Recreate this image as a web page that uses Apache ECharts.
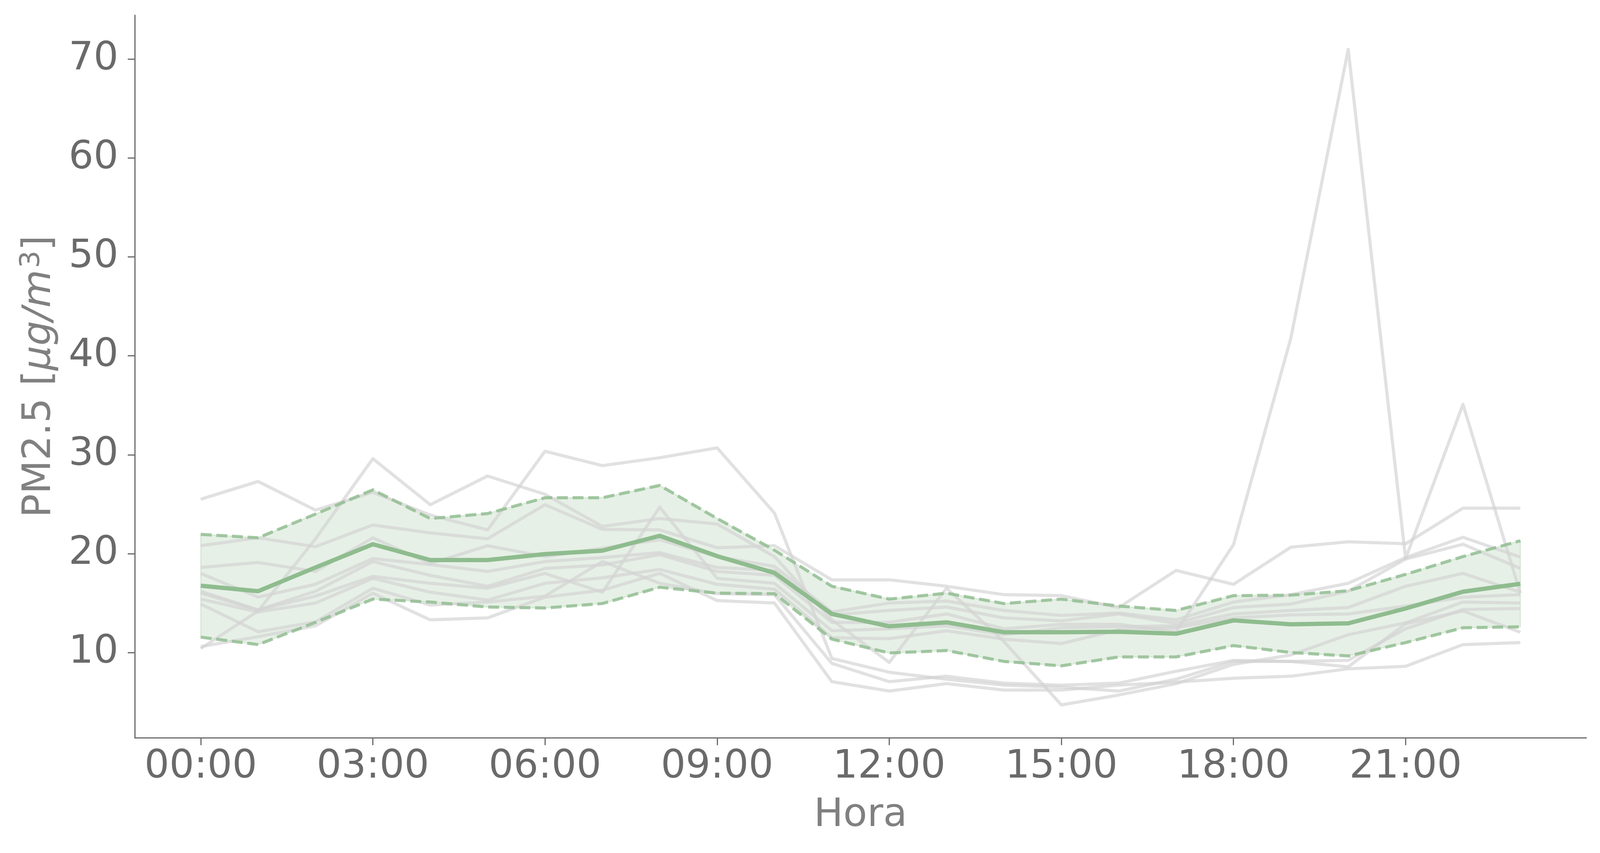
<!DOCTYPE html>
<html>
<head>
<meta charset="utf-8">
<title>PM2.5 por hora</title>
<script src="https://cdn.jsdelivr.net/npm/echarts@6/dist/echarts.min.js"></script>
<style>
  html, body { margin: 0; padding: 0; background: #ffffff; }
  #chart { width: 4103px; height: 2183px; }
</style>
</head>
<body>
<div id="chart"></div>
<script>
// horas del dia (0..23) y marcas del eje x
const hours = [0, 1, 2, 3, 4, 5, 6, 7, 8, 9, 10, 11, 12, 13, 14, 15, 16, 17, 18, 19, 20, 21, 22, 23];
const hourTicks = [0, 3, 6, 9, 12, 15, 18, 21];
const pmTicks = [10, 20, 30, 40, 50, 60, 70];

// perfil medio y banda (lineas verdes)
const meanPm25 = [16.75, 16.2, 18.6, 20.95, 19.35, 19.35, 19.95, 20.3, 21.8, 19.75, 18.05, 13.9,
  12.65, 13.05, 12.05, 12.05, 12.1, 11.9, 13.25, 12.85, 12.95, 14.45, 16.15, 16.95];
const upperPm25 = [21.95, 21.6, 24.0, 26.45, 23.55, 24.05, 25.65, 25.65, 26.9, 23.55, 20.35, 16.7,
  15.4, 16.0, 14.95, 15.4, 14.7, 14.25, 15.75, 15.8, 16.25, 17.9, 19.7, 21.3];
const lowerPm25 = [11.55, 10.8, 13.05, 15.4, 15.1, 14.6, 14.5, 14.95, 16.6, 16.0, 15.95, 11.35,
  9.95, 10.2, 9.1, 8.65, 9.55, 9.55, 10.7, 10.0, 9.65, 11.0, 12.5, 12.6];

// un dia por linea gris
const day01 = [25.5, 27.3, 24.4, 26.2, 23.9, 22.4, 30.35, 28.9, 29.7, 30.7, 24.1, 9.4,
  8.0, 7.3, 6.7, 6.5, 6.1, 7.3, 9.1, 9.1, 9.2, 12.4, 14.35, 14.45];
const day02 = [10.4, 14.2, 21.5, 29.6, 24.95, 27.85, 26.0, 22.75, 23.55, 23.0, 19.7, 13.3,
  9.0, 16.5, 11.1, 4.7, 5.7, 6.85, 8.8, 9.75, 11.8, 13.0, 15.1, 15.0];
const day03 = [20.8, 21.6, 20.7, 22.9, 22.1, 21.5, 24.95, 22.45, 22.4, 20.6, 20.8, 17.35,
  17.35, 16.7, 15.85, 15.75, 14.55, 18.3, 16.9, 20.65, 21.2, 21.0, 24.6, 24.6];
const day04 = [18.6, 19.1, 18.2, 21.6, 19.0, 20.8, 19.7, 20.55, 21.4, 19.7, 18.7, 14.1,
  15.0, 15.2, 14.25, 13.75, 14.0, 13.3, 15.1, 15.85, 17.0, 19.6, 21.65, 19.65];
const day05 = [18.0, 15.6, 16.9, 19.5, 18.9, 18.2, 19.2, 19.6, 20.1, 18.6, 18.3, 13.8,
  14.25, 14.6, 13.5, 13.2, 13.9, 12.95, 14.55, 14.9, 16.2, 19.45, 20.95, 18.5];
const day06 = [16.2, 14.3, 16.2, 19.2, 17.8, 16.7, 18.5, 18.85, 19.9, 18.2, 17.8, 13.05,
  13.05, 13.9, 12.4, 12.85, 12.85, 12.1, 20.9, 41.8, 71.0, 19.5, 35.1, 16.0];
const day07 = [16.0, 14.3, 15.7, 17.7, 17.0, 16.5, 18.0, 16.1, 24.7, 17.5, 17.0, 12.2,
  12.4, 12.7, 11.8, 12.5, 12.6, 12.7, 13.9, 14.25, 14.55, 16.7, 18.0, 16.1];
const day08 = [15.4, 14.1, 15.0, 17.5, 16.1, 15.3, 17.0, 17.55, 18.4, 16.9, 16.4, 11.5,
  11.4, 12.2, 11.35, 10.9, 12.3, 12.5, 13.5, 13.8, 13.9, 14.7, 15.6, 15.85];
const day09 = [14.9, 12.1, 13.1, 16.5, 14.8, 15.1, 15.7, 19.2, 17.0, 15.95, 15.85, 8.9,
  7.05, 7.6, 6.9, 6.7, 6.9, 8.1, 9.2, 9.1, 8.55, 12.9, 14.2, 12.05];
const day10 = [10.6, 11.6, 12.7, 16.0, 13.3, 13.5, 15.6, 16.3, 18.0, 15.25, 15.0, 7.05,
  6.1, 6.85, 6.2, 6.2, 6.7, 7.0, 7.4, 7.6, 8.35, 8.6, 10.8, 11.0];
const dailyPm25 = [day01, day02, day03, day04, day05, day06, day07, day08, day09, day10];

const green = 'rgb(143,188,143)';
const tickColor = '#6a6a6a';
const nameColor = '#808080';
const font = 'DejaVu Sans';

const pairs = (vals) => hours.map((h, i) => [h, vals[i]]);

const chart = echarts.init(document.getElementById('chart'), null, { renderer: 'canvas' });

const series = [];

// banda sombreada entre limite inferior y superior
series.push({
  name: 'banda',
  type: 'custom',
  data: hours.map((h, i) => [h, lowerPm25[i], upperPm25[i]]),
  encode: { x: 0, y: [1, 2] },
  silent: true,
  z: 1,
  renderItem: function (params, api) {
    if (params.dataIndex !== 0) return null;
    const top = hours.map((h, i) => api.coord([h, upperPm25[i]]));
    const bottom = hours.map((h, i) => api.coord([h, lowerPm25[i]])).reverse();
    return {
      type: 'polygon',
      shape: { points: top.concat(bottom) },
      style: { fill: 'rgba(143,188,143,0.22)', stroke: 'rgba(143,188,143,0.25)', lineWidth: 3 }
    };
  }
});

// lineas diarias en gris
dailyPm25.forEach((d, k) => {
  series.push({
    name: 'dia' + (k + 1),
    type: 'line',
    data: pairs(d),
    symbol: 'none',
    lineStyle: { color: 'rgba(211,211,211,0.68)', width: 8, join: 'round' },
    silent: true,
    z: 2
  });
});

// limites discontinuos
[upperPm25, lowerPm25].forEach((d, k) => {
  series.push({
    name: k === 0 ? 'superior' : 'inferior',
    type: 'line',
    data: pairs(d),
    symbol: 'none',
    lineStyle: { color: 'rgba(143,188,143,0.8)', width: 8, type: [28, 12], join: 'round' },
    silent: true,
    z: 3
  });
});

// media
series.push({
  name: 'media',
  type: 'line',
  data: pairs(meanPm25),
  symbol: 'none',
  lineStyle: { color: green, width: 11, join: 'round' },
  silent: true,
  z: 4
});

const option = {
  backgroundColor: '#ffffff',
  animation: false,
  grid: {
    left: 345,
    right: 42,
    top: 39,
    bottom: 295,
    containLabel: false,
    outerBoundsMode: 'none'
  },
  xAxis: {
    type: 'value',
    min: -1.15,
    max: 24.15,
    name: 'Hora',
    nameLocation: 'middle',
    nameGap: 150,
    nameTextStyle: { color: nameColor, fontFamily: font, fontSize: 100 },
    axisLine: { show: true, onZero: false, lineStyle: { color: tickColor, width: 3 } },
    axisTick: { show: true, customValues: hourTicks, length: 19, lineStyle: { color: tickColor, width: 3 } },
    axisLabel: {
      customValues: hourTicks,
      margin: 26,
      color: tickColor,
      fontFamily: font,
      fontSize: 100,
      formatter: (v) => String(v).padStart(2, '0') + ':00'
    },
    splitLine: { show: false }
  },
  yAxis: {
    type: 'value',
    min: 1.38,
    max: 74.45,
    name: 'PM2.5 [{i|μg/m}{sup|3}]',
    nameLocation: 'middle',
    nameRotate: 90,
    nameGap: 188,
    nameTextStyle: {
      color: nameColor,
      fontFamily: font,
      fontSize: 100,
      rich: {
        i: { color: nameColor, fontFamily: font, fontSize: 100, fontStyle: 'italic' },
        sup: {
          color: nameColor, fontFamily: font, fontSize: 70,
          verticalAlign: 'top', padding: [0, 0, 40, 4]
        }
      }
    },
    axisLine: { show: true, onZero: false, lineStyle: { color: tickColor, width: 3 } },
    axisTick: { show: true, customValues: pmTicks, length: 18, lineStyle: { color: tickColor, width: 3 } },
    axisLabel: {
      customValues: pmTicks,
      margin: 42,
      color: tickColor,
      fontFamily: font,
      fontSize: 100
    },
    splitLine: { show: false }
  },
  series: series
};

chart.setOption(option);
window.addEventListener('resize', () => chart.resize());
</script>
</body>
</html>
